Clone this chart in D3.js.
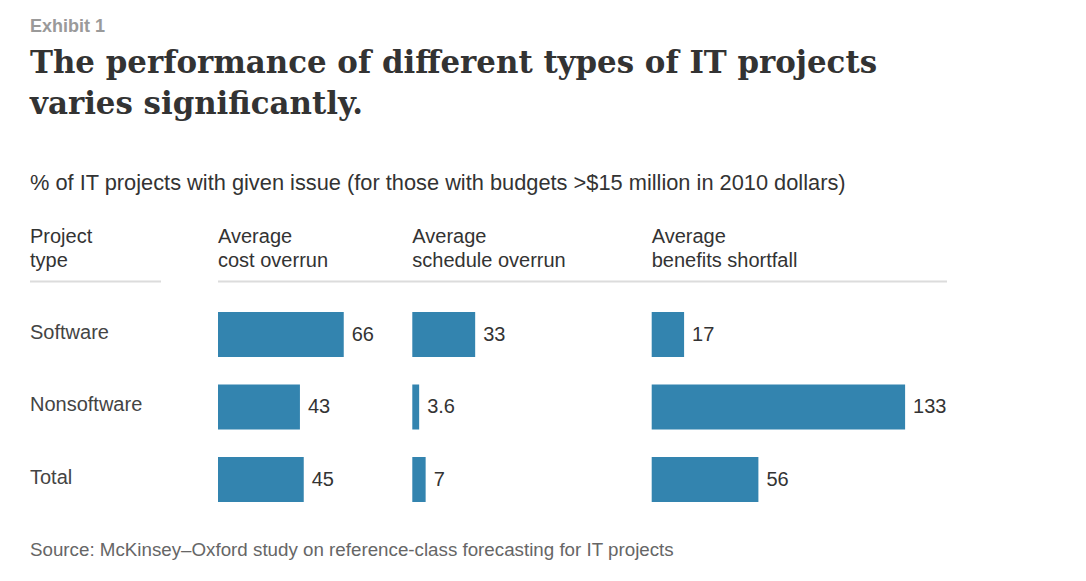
<!DOCTYPE html>
<html>
<head>
<meta charset="utf-8">
<script src="https://cdn.jsdelivr.net/npm/d3@7"></script>
<style>
  html, body { margin: 0; padding: 0; background: #fff; }
  svg { display: block; }
  .sans { font-family: "Liberation Sans", Arial, Helvetica, sans-serif; }
</style>
</head>
<body>
<svg id="chart" width="1086" height="581"></svg>
<script>
// ---- data ----
const categories = ["Software", "Nonsoftware", "Total"];
const metrics = ["cost overrun", "schedule overrun", "benefits shortfall"];
const costOverrun = [66, 43, 45];
const scheduleOverrun = [33, 3.6, 7];
const benefitsShortfall = [17, 133, 56];
const valueLabels = [["66", "43", "45"], ["33", "3.6", "7"], ["17", "133", "56"]];

const titleLines = ["The performance of different types of IT projects", "varies significantly."];
const subtitle = "% of IT projects with given issue (for those with budgets >$15 million in 2010 dollars)";
const source = "Source: McKinsey\u2013Oxford study on reference-class forecasting for IT projects";

const series = [costOverrun, scheduleOverrun, benefitsShortfall];

// ---- layout ----
const svg = d3.select("#chart");
const barColor = "#3384af";
const textColor = "#333";

const colX = [218, 412.3, 651.7];
const x = d3.scaleLinear().domain([0, 133]).range([0, 253.4]);
const y = d3.scalePoint().domain(categories).range([334.5, 479.5]);
const barH = 45;

function fitText(sel, target) {
  const node = sel.node();
  const w = node.getComputedTextLength();
  const fs = parseFloat(sel.attr("font-size"));
  sel.attr("font-size", (fs * target / w).toFixed(2));
}

// Exhibit label
svg.append("text").attr("class", "sans")
  .attr("x", 30).attr("y", 32)
  .attr("font-size", 18).attr("font-weight", "bold")
  .attr("fill", "#9a9a9a")
  .text("Exhibit 1");

// Title (compressed horizontally to match reference width)
const titleFs = 31;
const t1 = svg.append("text")
  .attr("x", 30).attr("y", 73)
  .attr("font-family", "'DejaVu Serif', Georgia, serif")
  .attr("font-weight", "bold").attr("font-size", titleFs)
  .attr("fill", textColor)
  .text(titleLines[0]);
const w1 = t1.node().getComputedTextLength();
const squeeze = 847 / w1;
t1.attr("textLength", 847).attr("lengthAdjust", "spacingAndGlyphs");
const t2 = svg.append("text")
  .attr("x", 30).attr("y", 114)
  .attr("font-family", "'DejaVu Serif', Georgia, serif")
  .attr("font-weight", "bold").attr("font-size", titleFs)
  .attr("fill", textColor)
  .text(titleLines[1]);
const w2 = t2.node().getComputedTextLength();
t2.attr("textLength", (w2 * squeeze).toFixed(1)).attr("lengthAdjust", "spacingAndGlyphs");

// Subtitle
const st = svg.append("text").attr("class", "sans")
  .attr("x", 30).attr("y", 190)
  .attr("font-size", 20)
  .attr("fill", textColor)
  .text(subtitle);
fitText(st, 816);

// Column headers
const headerFont = 20;
const headers = [
  { x: 30, lines: ["Project", "type"] },
  { x: colX[0], lines: ["Average", metrics[0]] },
  { x: colX[1], lines: ["Average", metrics[1]] },
  { x: colX[2], lines: ["Average", metrics[2]] }
];
headers.forEach(h => {
  h.lines.forEach((ln, i) => {
    svg.append("text").attr("class", "sans")
      .attr("x", h.x).attr("y", 243 + i * 24)
      .attr("font-size", headerFont)
      .attr("fill", textColor)
      .text(ln);
  });
});

// Header rules
svg.append("line").attr("x1", 30).attr("x2", 161).attr("y1", 281.5).attr("y2", 281.5)
  .attr("stroke", "#dcdcdc").attr("stroke-width", 2);
svg.append("line").attr("x1", 218).attr("x2", 947).attr("y1", 281.5).attr("y2", 281.5)
  .attr("stroke", "#dcdcdc").attr("stroke-width", 2);

// Row labels
svg.selectAll("text.rowlabel").data(categories).enter().append("text")
  .attr("class", "sans rowlabel")
  .attr("x", 30).attr("y", d => y(d) + 4)
  .attr("font-size", 20)
  .attr("fill", "#444")
  .text(d => d);

// Bars and values
series.forEach((vals, si) => {
  const g = svg.append("g").attr("transform", `translate(${colX[si]},0)`);
  g.selectAll("rect").data(vals).enter().append("rect")
    .attr("x", 0)
    .attr("y", (d, i) => y(categories[i]) - barH / 2)
    .attr("width", d => x(d))
    .attr("height", barH)
    .attr("fill", barColor);
  g.selectAll("text").data(vals).enter().append("text")
    .attr("class", "sans")
    .attr("x", d => x(d) + 8)
    .attr("y", (d, i) => y(categories[i]) + 6)
    .attr("font-size", 20)
    .attr("fill", textColor)
    .text((d, i) => valueLabels[si][i]);
});

// Source
const src = svg.append("text").attr("class", "sans")
  .attr("x", 30).attr("y", 556)
  .attr("font-size", 18)
  .attr("fill", "#666")
  .text(source);
fitText(src, 644);
</script>
</body>
</html>
